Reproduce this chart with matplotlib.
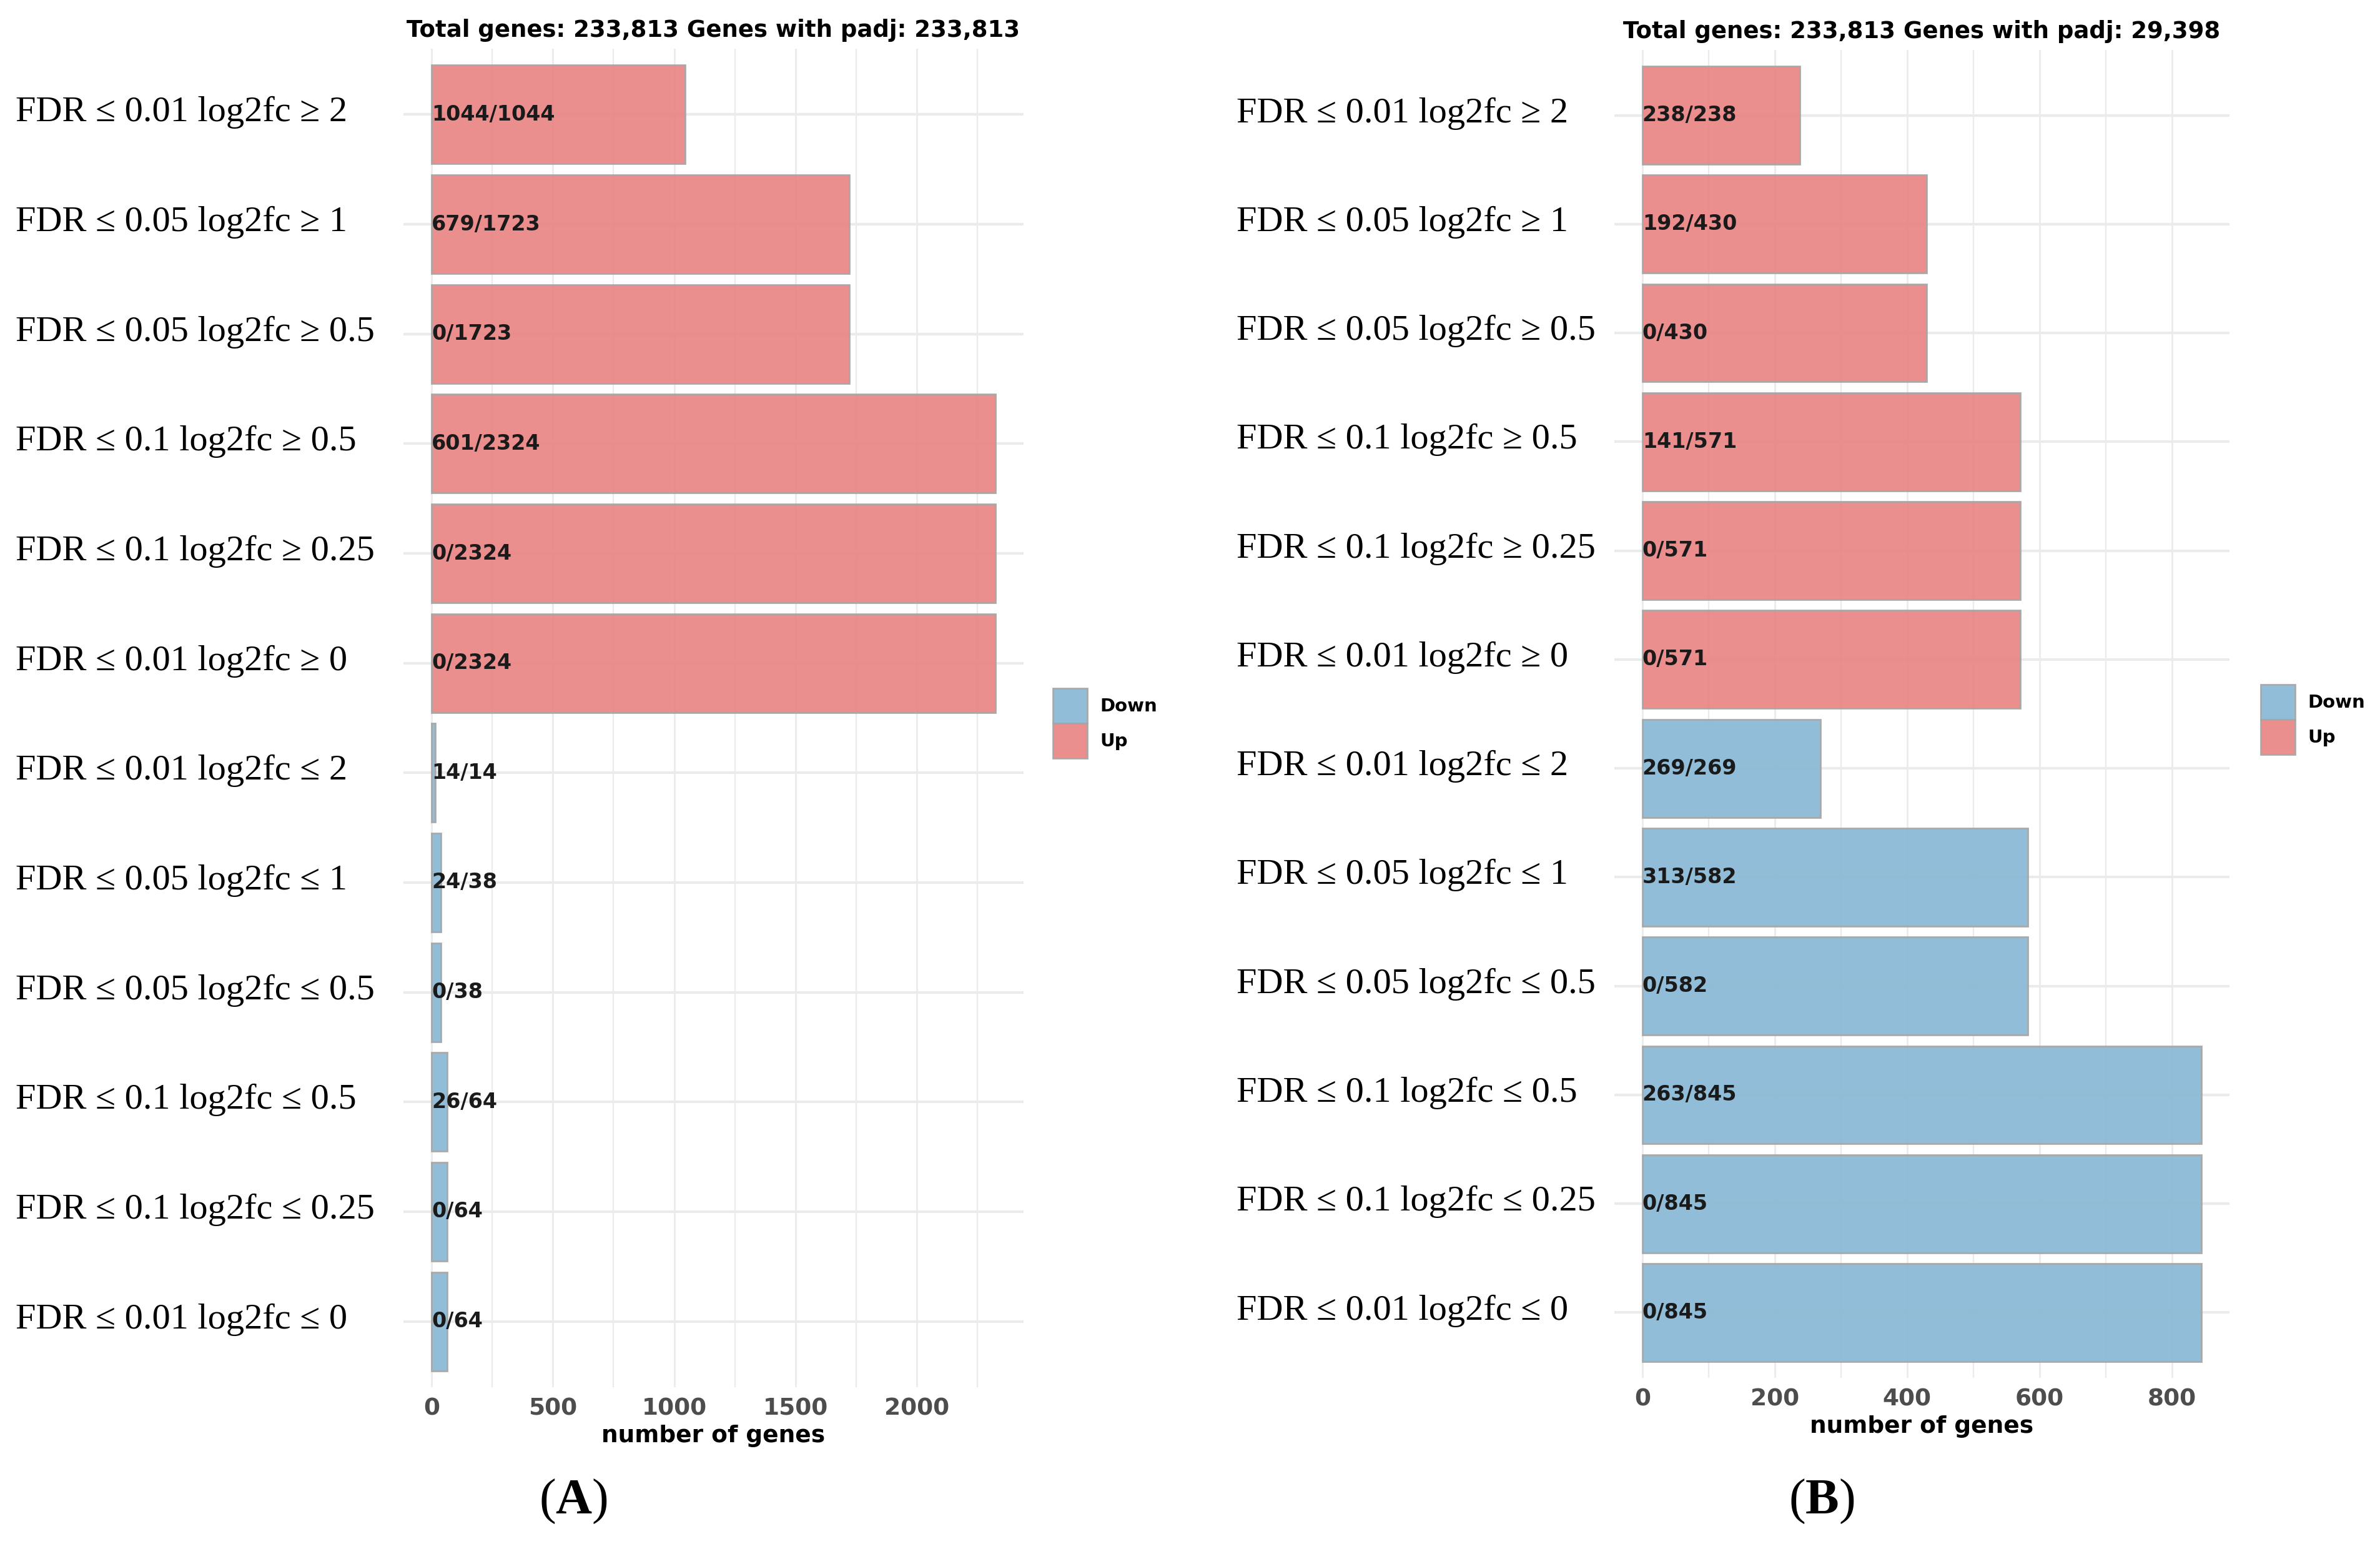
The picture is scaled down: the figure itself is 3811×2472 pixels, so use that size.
import matplotlib
matplotlib.use("Agg")
import matplotlib.pyplot as plt
from matplotlib.patches import Patch
from matplotlib.transforms import ScaledTranslation

# ---------------- data ----------------
categories = [
    "FDR ≤ 0.01 log2fc ≥ 2",
    "FDR ≤ 0.05 log2fc ≥ 1",
    "FDR ≤ 0.05 log2fc ≥ 0.5",
    "FDR ≤ 0.1 log2fc ≥ 0.5",
    "FDR ≤ 0.1 log2fc ≥ 0.25",
    "FDR ≤ 0.01 log2fc ≥ 0",
    "FDR ≤ 0.01 log2fc ≤ 2",
    "FDR ≤ 0.05 log2fc ≤ 1",
    "FDR ≤ 0.05 log2fc ≤ 0.5",
    "FDR ≤ 0.1 log2fc ≤ 0.5",
    "FDR ≤ 0.1 log2fc ≤ 0.25",
    "FDR ≤ 0.01 log2fc ≤ 0",
]
direction = ["Up"] * 6 + ["Down"] * 6

a_total = [1044, 1723, 1723, 2324, 2324, 2324, 14, 38, 38, 64, 64, 64]
a_new = [1044, 679, 0, 601, 0, 0, 14, 24, 0, 26, 0, 0]
a_title = "Total genes: 233,813 Genes with padj: 233,813"
a_ticks = [0, 500, 1000, 1500, 2000]
a_minor = [250, 750, 1250, 1750, 2250]

b_total = [238, 430, 430, 571, 571, 571, 269, 582, 582, 845, 845, 845]
b_new = [238, 192, 0, 141, 0, 0, 269, 313, 0, 263, 0, 0]
b_title = "Total genes: 233,813 Genes with padj: 29,398"
b_ticks = [0, 200, 400, 600, 800]
b_minor = [100, 300, 500, 700]

colors = {"Up": "#EA8484", "Down": "#88B8D5"}
EDGE = "#A6A6A6"
GRID = "#EBEBEB"

W, H = 3812, 2472
fig = plt.figure(figsize=(W / 100, H / 100), dpi=100)
plt.rcParams["mathtext.fontset"] = "custom"
plt.rcParams["mathtext.rm"] = "Liberation Serif"
plt.rcParams["mathtext.bf"] = "Liberation Serif:bold"


def px_axes(l, r, t, b):
    return fig.add_axes([l / W, 1 - b / H, (r - l) / W, (b - t) / H])


def panel(ax, totals, news, title, ticks, minor, label_left_px, ax_left_px,
          leg_x, leg_y, panel_label, panel_x):
    n = len(categories)
    ypos = list(range(n))
    xmax = max(totals)
    ax.set_xlim(-0.05 * xmax, 1.05 * xmax)
    ax.set_ylim(n - 1 + 0.6, -0.6)
    # grid
    for t in ticks:
        ax.axvline(t, color=GRID, lw=2.0, zorder=0)
    for t in minor:
        ax.axvline(t, color=GRID, lw=1.6, zorder=0)
    for y in ypos:
        ax.axhline(y, color=GRID, lw=3.0, zorder=0)
    ax.barh(ypos, totals, height=0.9,
            color=[colors[d] for d in direction], alpha=0.92,
            edgecolor=EDGE, linewidth=2.0, zorder=2)
    for y, nw, tt in zip(ypos, news, totals):
        ax.text(0, y, f"{nw}/{tt}", ha="left", va="center",
                fontsize=24, fontweight="bold", color="#1A1A1A",
                family="DejaVu Sans", zorder=3)
    for s in ax.spines.values():
        s.set_visible(False)
    ax.set_xticks(ticks)
    ax.set_xticklabels([str(t) for t in ticks], fontsize=27,
                       fontweight="bold", color="#4D4D4D")
    ax.set_yticks(ypos)
    pad_pt = (ax_left_px - label_left_px) * 0.72
    ax.set_yticklabels(categories, fontsize=42, family="Liberation Serif",
                       color="black")
    ax.tick_params(axis="y", length=0, pad=pad_pt)
    ax.tick_params(axis="x", length=0, pad=12)
    shift = ScaledTranslation(0, 0.09, fig.dpi_scale_trans)
    for lbl in ax.get_yticklabels():
        lbl.set_ha("left")
        lbl.set_transform(lbl.get_transform() + shift)
    ax.set_xlabel("number of genes", fontsize=27, fontweight="bold",
                  labelpad=5)
    ax.set_title(title, fontsize=26.7, fontweight="bold", pad=14)
    handles = [Patch(facecolor=colors["Down"], edgecolor=EDGE, linewidth=2.0,
                     alpha=0.92, label="Down"),
               Patch(facecolor=colors["Up"], edgecolor=EDGE, linewidth=2.0,
                     alpha=0.92, label="Up")]
    fig.legend(handles=handles, loc="upper left",
               bbox_to_anchor=(leg_x / W, 1 - leg_y / H),
               bbox_transform=fig.transFigure, frameon=False,
               prop={"weight": "bold", "size": 21},
               handlelength=1.9, handleheight=2.58, labelspacing=0.0,
               handletextpad=0.7, borderpad=0.0, borderaxespad=0.0)
    fig.text(panel_x / W, 1 - 2404 / H, r"($\mathbf{" + panel_label + "}$)",
             fontsize=58, family="Liberation Serif", ha="center",
             va="center")


axA = px_axes(646, 1639, 78, 2221)
panel(axA, a_total, a_new, a_title, a_ticks, a_minor, 25, 646,
      1686, 1102, "A", 918)

axB = px_axes(2585, 3570, 80, 2206)
panel(axB, b_total, b_new, b_title, b_ticks, b_minor, 1980, 2585,
      3620, 1096, "B", 2917)

fig.savefig("out.png", dpi=100)
